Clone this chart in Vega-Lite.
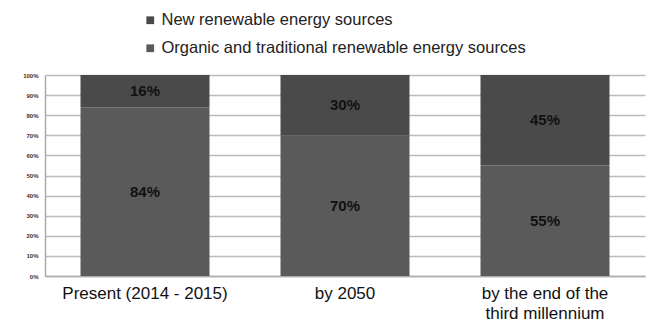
{
  "$schema": "https://vega.github.io/schema/vega-lite/v6.json",
  "autosize": {"type": "none"},
  "width": 600,
  "height": 201,
  "padding": {"left": 45, "top": 75, "right": 7, "bottom": 46},
  "background": "white",
  "config": {
    "view": {"stroke": null},
    "font": "Liberation Sans"
  },
  "data": {
    "values": [
      {"period": "Present (2014 - 2015)", "series": "Organic and traditional renewable energy sources", "value": 84, "ord": 1},
      {"period": "Present (2014 - 2015)", "series": "New renewable energy sources", "value": 16, "ord": 2},
      {"period": "by 2050", "series": "Organic and traditional renewable energy sources", "value": 70, "ord": 1},
      {"period": "by 2050", "series": "New renewable energy sources", "value": 30, "ord": 2},
      {"period": "by the end of the third millennium", "series": "Organic and traditional renewable energy sources", "value": 55, "ord": 1},
      {"period": "by the end of the third millennium", "series": "New renewable energy sources", "value": 45, "ord": 2}
    ]
  },
  "transform": [
    {"stack": "value", "groupby": ["period"], "sort": [{"field": "ord", "order": "ascending"}], "as": ["v0", "v1"]},
    {"calculate": "(datum.v0 + datum.v1) / 2", "as": "vmid"},
    {"calculate": "datum.value + '%'", "as": "lbl"}
  ],
  "encoding": {
    "x": {
      "field": "period", "type": "nominal", "sort": null,
      "scale": {"paddingInner": 0.355, "paddingOuter": 0.1775},
      "axis": {
        "title": null, "labelAngle": 0, "ticks": false,
        "domainColor": "#aaaaaa", "domainWidth": 1.5,
        "labelFontSize": 17, "labelColor": "#111111", "labelPadding": 9,
        "labelLimit": 400, "labelLineHeight": 20,
        "labelExpr": "datum.label == 'by the end of the third millennium' ? ['by the end of the', 'third millennium'] : datum.label"
      }
    }
  },
  "layer": [
    {
      "mark": {"type": "bar"},
      "encoding": {
        "y": {
          "field": "v0", "type": "quantitative",
          "scale": {"domain": [0, 100]},
          "axis": {
            "title": null, "values": [0,10,20,30,40,50,60,70,80,90,100],
            "labelExpr": "datum.value + '%'",
            "labelFontSize": 6, "labelFontWeight": "bold", "labelColor": "#333333",
            "ticks": false, "labelPadding": 7,
            "domainColor": "#aaaaaa", "domainWidth": 1.5,
            "gridColor": "#bbbbbb", "gridWidth": 1.5
          }
        },
        "y2": {"field": "v1"},
        "color": {
          "field": "series", "type": "nominal",
          "scale": {
            "domain": ["New renewable energy sources", "Organic and traditional renewable energy sources"],
            "range": ["#4a4a4a", "#5a5a5a"]
          },
          "legend": {
            "title": null, "orient": "none", "legendX": 97, "legendY": -63,
            "direction": "vertical", "labelFontSize": 16.5, "labelColor": "#222222",
            "labelLimit": 500,
            "symbolType": "square", "symbolSize": 60, "rowPadding": 11,
            "labelOffset": 3, "symbolStrokeWidth": 0
          }
        }
      }
    },
    {
      "mark": {"type": "text", "fontSize": 15, "fontWeight": "bold", "color": "#111111"},
      "encoding": {
        "y": {
          "field": "vmid", "type": "quantitative",
          "scale": {"domain": [0, 100]},
          "axis": {
            "title": null, "values": [0,10,20,30,40,50,60,70,80,90,100],
            "labelExpr": "datum.value + '%'",
            "labelFontSize": 6, "labelFontWeight": "bold", "labelColor": "#333333",
            "ticks": false, "labelPadding": 7,
            "domainColor": "#aaaaaa", "domainWidth": 1.5,
            "gridColor": "#bbbbbb", "gridWidth": 1.5
          }
        },
        "text": {"field": "lbl", "type": "nominal"}
      }
    }
  ]
}
